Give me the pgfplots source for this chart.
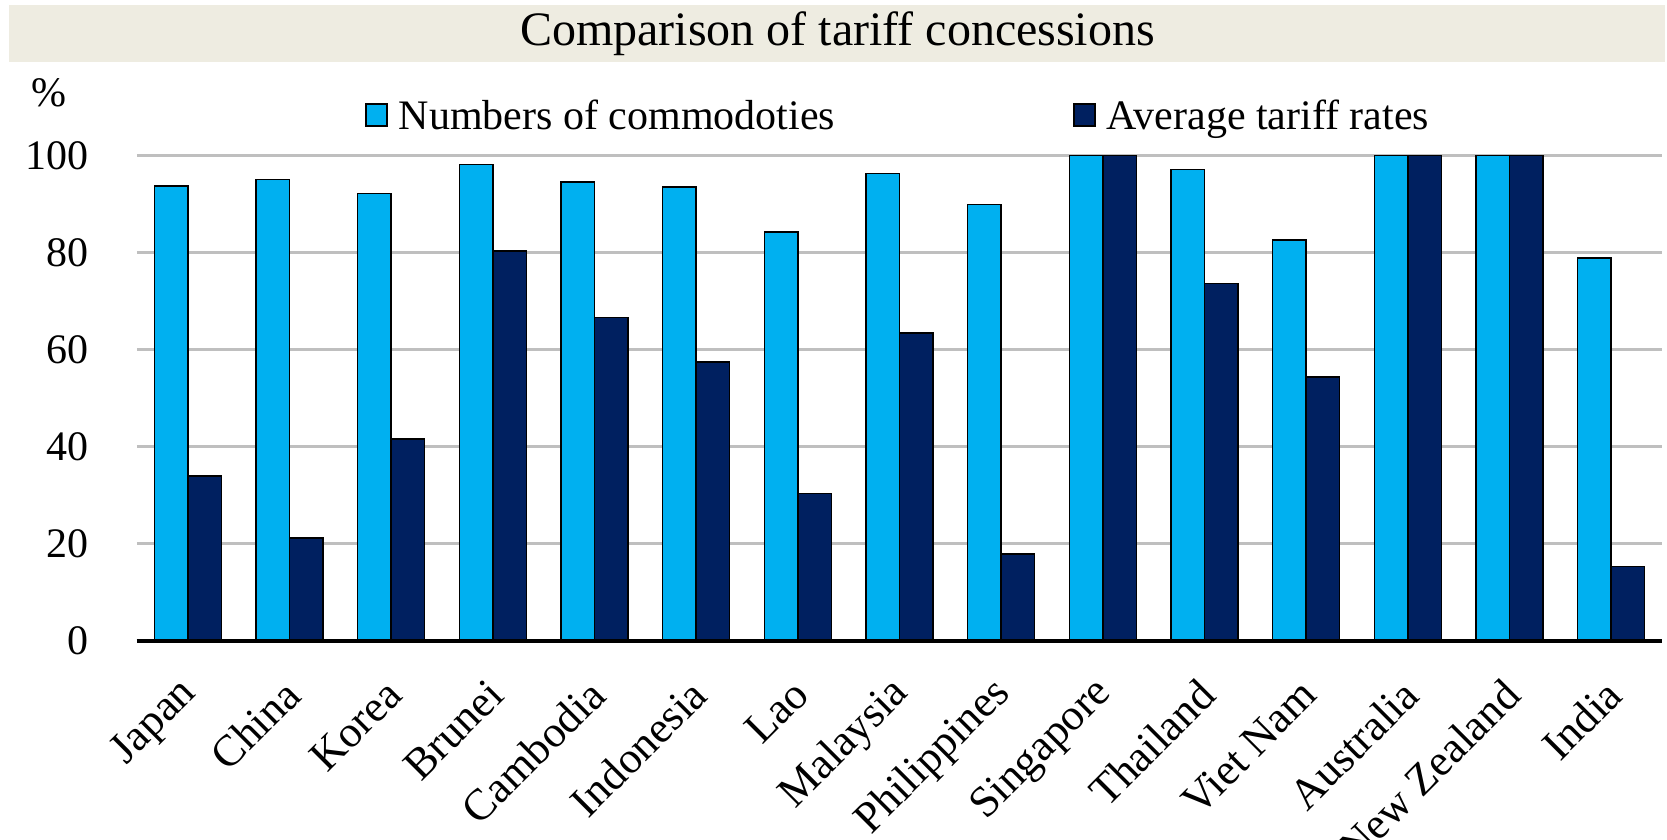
\documentclass[border=0pt]{standalone}
\usepackage{fontspec}
\setmainfont{Liberation Serif}
\usepackage{pgfplots}
\pgfplotsset{compat=1.18}
\definecolor{barLight}{RGB}{0,176,240}
\definecolor{barDark}{RGB}{0,32,96}
\definecolor{gridGray}{RGB}{191,191,191}
\definecolor{titleBg}{RGB}{238,236,225}

\pgfplotstableread{
idx light dark
0  93.75 34.0
1  95.05 21.2
2  92.2  41.6
3  98.2  80.3
4  94.6  66.6
5  93.5  57.5
6  84.3  30.3
7  96.3  63.4
8  89.9  17.9
9  100   100
10 97.2  73.6
11 82.6  54.4
12 100   100
13 100   100
14 78.9  15.3
}\tariffdata

\begin{document}
\begin{tikzpicture}
\path[use as bounding box] (0,0) rectangle (833.5pt,420pt);
% title bar
\fill[titleBg] (4.25pt,389pt) rectangle (832.5pt,417.5pt);
\node[font=\fontsize{24}{28}\selectfont, inner sep=0pt] at (418.75pt,403pt) {Comparison of tariff concessions};
\begin{axis}[
    at={(68.5pt,99.65pt)}, anchor=south west,
    scale only axis, width=762.5pt, height=242.5pt,
    ybar=0pt, bar width=16.75pt,
    xmin=-0.5, xmax=14.5, ymin=0, ymax=100,
    clip=false,
    axis x line*=bottom, axis y line*=left,
    x axis line style={line width=2pt, -},
    y axis line style={draw=none},
    major tick length=0pt,
    xtick={0,...,14},
    xticklabels={Japan,China,Korea,Brunei,Cambodia,Indonesia,Lao,Malaysia,Philippines,Singapore,Thailand,Viet Nam,Australia,New Zealand,India},
    ytick={0,20,...,100},
    ymajorgrids=true,
    grid style={gridGray, line width=1.8pt},
    /pgf/number format/assume math mode=true,
    tick label style={font=\fontsize{21}{25}\selectfont},
    yticklabel style={anchor=east, inner sep=0pt, xshift=-24pt},
    xticklabel style={font=\fontsize{22}{26}\selectfont, xshift=1.5pt, yshift=-23.3pt, rotate=45, anchor=east, inner sep=0pt},
    ylabel={\%},
    ylabel style={rotate=-90, at={(-0.0577,1.130)}, anchor=center, inner sep=0pt, font=\fontsize{21}{25}\selectfont},
    legend columns=2,
    legend style={at={(0.1495,1.082)}, anchor=west, draw=none, fill=none,
        inner sep=0pt, font=\fontsize{21}{25}\selectfont,
        nodes={inner sep=0pt}, cells={anchor=base west},
        /tikz/every odd column/.append style={column sep=5.5pt},
        /tikz/every even column/.append style={column sep=119pt}},
    legend image code/.code={\draw[#1, line width=0.75pt] (0pt,1.5pt) rectangle (10.5pt,12.5pt);},
]
\addplot[fill=barLight, draw=black, line width=0.75pt, bar shift=-8.375pt] table[x=idx, y=light] {\tariffdata};
\addplot[fill=barDark, draw=black, line width=0.75pt, bar shift=8.375pt] table[x=idx, y=dark] {\tariffdata};
\legend{Numbers of commodoties, Average tariff rates}
\draw[line width=2pt] (axis cs:-0.5,0) -- (axis cs:14.5,0);
\end{axis}
\end{tikzpicture}
\end{document}
